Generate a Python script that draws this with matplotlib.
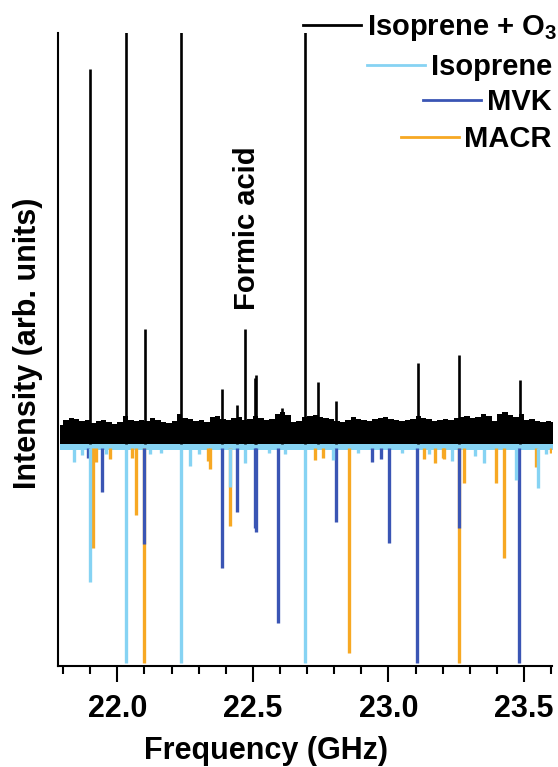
import numpy as np
import matplotlib.pyplot as plt
from matplotlib.lines import Line2D
from matplotlib.ticker import MultipleLocator, FormatStrFormatter

plt.rcParams["font.family"] = ["Liberation Sans", "DejaVu Sans"]
plt.rcParams["font.weight"] = "bold"
plt.rcParams["mathtext.fontset"] = "custom"
plt.rcParams["mathtext.rm"] = "Liberation Sans:bold"
plt.rcParams["mathtext.it"] = "Liberation Sans:bold"
plt.rcParams["mathtext.bf"] = "Liberation Sans:bold"
plt.rcParams["mathtext.default"] = "rm"

C_ISO = "#86d3f3"
C_MVK = "#3a55b4"
C_MACR = "#f7a823"

# measured spectrum (isoprene + O3): noise floor envelope every 0.02 GHz
noise_start, noise_stop = 21.79, 23.61
noise_floor = 0.04
noise_top = [
    0.23, 0.28, 0.30, 0.29, 0.27, 0.28, 0.25, 0.27, 0.28, 0.26,
    0.24, 0.26, 0.32, 0.28, 0.27, 0.28, 0.27, 0.30, 0.28, 0.26,
    0.25, 0.27, 0.34, 0.30, 0.29, 0.27, 0.28, 0.26, 0.31, 0.32,
    0.29, 0.28, 0.30, 0.31, 0.28, 0.29, 0.32, 0.30, 0.28, 0.29,
    0.34, 0.36, 0.33, 0.26, 0.27, 0.31, 0.32, 0.33, 0.31, 0.30,
    0.29, 0.27, 0.26, 0.28, 0.31, 0.29, 0.28, 0.27, 0.29, 0.30,
    0.31, 0.29, 0.28, 0.27, 0.28, 0.29, 0.32, 0.30, 0.29, 0.27,
    0.28, 0.29, 0.28, 0.30, 0.31, 0.32, 0.30, 0.31, 0.34, 0.32,
    0.27, 0.34, 0.36, 0.33, 0.31, 0.34, 0.28, 0.29, 0.27, 0.26,
    0.27, 0.26,
]

# measured lines (GHz, intensity)
exp_freq = [21.900, 22.033, 22.103, 22.234, 22.386, 22.443, 22.471, 22.507,
            22.513, 22.607, 22.694, 22.740, 22.806, 23.110, 23.261, 23.485]
exp_int = [3.79, 5.00, 1.19, 5.00, 0.59, 0.43, 1.19, 0.70,
           0.73, 0.40, 5.00, 0.66, 0.47, 0.85, 0.93, 0.68]

# simulated stick spectra (plotted downwards)
iso_band = -0.025
iso_freq = [21.842, 21.870, 21.900, 21.960, 22.033, 22.120, 22.160, 22.234,
            22.267, 22.300, 22.415, 22.471, 22.560, 22.620, 22.694, 22.795,
            22.887, 23.050, 23.150, 23.233, 23.320, 23.353, 23.470, 23.553,
            23.580]
iso_int = [0.14, 0.07, 1.34, 0.06, 2.15, 0.06, 0.05, 2.15,
           0.18, 0.06, 0.39, 0.15, 0.05, 0.06, 2.15, 0.12,
           0.05, 0.05, 0.06, 0.13, 0.08, 0.15, 0.32, 0.40,
           0.06]

mvk_freq = [21.891, 21.945, 22.100, 22.386, 22.443, 22.507, 22.511, 22.593,
            22.806, 22.941, 22.972, 23.003, 23.107, 23.260, 23.483]
mvk_int = [0.10, 0.44, 0.96, 1.20, 0.64, 0.80, 0.84, 1.75,
           0.74, 0.14, 0.11, 0.95, 2.15, 0.80, 2.15]

macr_freq = [21.910, 21.920, 21.974, 22.055, 22.070, 22.100, 22.336, 22.341,
             22.415, 22.728, 22.759, 22.854, 23.130, 23.171, 23.202, 23.206,
             23.260, 23.280, 23.395, 23.426, 23.543, 23.598]
macr_int = [1.00, 0.14, 0.11, 0.10, 0.67, 2.15, 0.13, 0.21,
            0.78, 0.12, 0.10, 2.05, 0.11, 0.15, 0.10, 0.11,
            2.15, 0.35, 0.35, 1.10, 0.19, 0.05]

fig = plt.figure(figsize=(5.58, 7.67), dpi=100)
ax = fig.add_axes([0.1048, 0.1317, 0.8844, 0.8253])

freq_grid = np.linspace(noise_start, noise_stop, len(noise_top))
ax.fill_between(freq_grid, iso_band, noise_floor, color=C_ISO, lw=0)
ax.vlines(macr_freq, 0, -np.array(macr_int), color=C_MACR, lw=2.4)
ax.vlines(mvk_freq, 0, -np.array(mvk_int), color=C_MVK, lw=2.4)
ax.vlines(iso_freq, 0, -np.array(iso_int), color=C_ISO, lw=2.4)
ax.fill_between(freq_grid, noise_floor, noise_top, step="mid", color="black", lw=0)
ax.vlines(exp_freq, noise_floor, exp_int, color="black", lw=1.9)

ax.text(22.477, 1.38, "Formic acid", rotation=90, ha="center", va="bottom",
        fontsize=21, fontweight="bold")

ax.set_xlim(21.783, 23.603)
ax.set_ylim(-2.18, 4.15)
ax.xaxis.set_major_locator(MultipleLocator(0.5))
ax.xaxis.set_minor_locator(MultipleLocator(0.1))
ax.xaxis.set_major_formatter(FormatStrFormatter("%.1f"))
ax.set_yticks([])
ax.tick_params(axis="x", which="major", length=11.5, width=1.5, labelsize=22, pad=9)
ax.tick_params(axis="x", which="minor", length=5.5, width=1.5)
for s in ["top", "right"]:
    ax.spines[s].set_visible(False)
for s in ["left", "bottom"]:
    ax.spines[s].set_linewidth(1.5)

ax.set_xlabel("Frequency (GHz)", fontsize=22, fontweight="bold")
ax.xaxis.set_label_coords(0.4215, -0.111)
ax.set_ylabel("Intensity (arb. units)", fontsize=22, fontweight="bold")
ax.yaxis.set_label_coords(-0.031, 0.51)

# legend drawn by hand: right-aligned labels with the line to the left
W, H = 558, 767
rows = [("Isoprene + O$_3$", "black", 557, 35),
        ("Isoprene", C_ISO, 552, 75),
        ("MVK", C_MVK, 552, 110),
        ("MACR", C_MACR, 552, 147)]
texts = []
for label, color, xr, yb in rows:
    t = fig.text(xr / W, 1 - yb / H, label, ha="right", va="baseline",
                 fontsize=21, fontweight="bold")
    texts.append(t)
fig.canvas.draw()
renderer = fig.canvas.get_renderer()
for t, (label, color, xr, yb) in zip(texts, rows):
    x0 = t.get_window_extent(renderer).x0
    yl = H - (yb - 10)
    fig.add_artist(Line2D([(x0 - 64) / W, (x0 - 6) / W], [yl / H, yl / H],
                          transform=fig.transFigure, color=color, lw=2.0))

fig.savefig("out.png", dpi=100)
plt.close(fig)
